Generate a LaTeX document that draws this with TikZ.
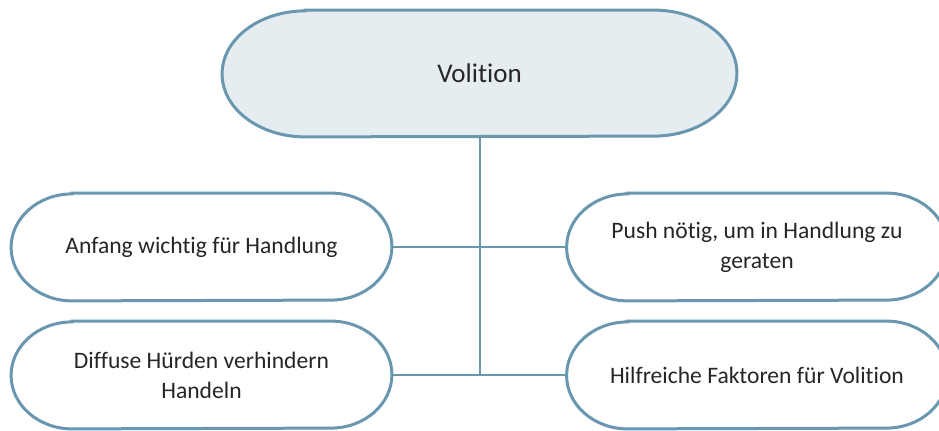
\documentclass[tikz,border=0pt]{standalone}
\usepackage{fontspec}
\setmainfont{Carlito}[Ligatures=NoCommon]
\usepackage{tikz}
\usetikzlibrary{positioning, calc, backgrounds}
\definecolor{edgeblue}{RGB}{106,151,176}
\definecolor{topfill}{RGB}{229,237,241}

\begin{document}
\begin{tikzpicture}[x=0.5pt, y=0.5pt,
    term/.style={rectangle, minimum width=190pt, minimum height=53.5pt, align=center,
        text=black!85, font=\fontsize{11.8}{15}\selectfont},
    outline/.style={draw=edgeblue, line width=1.5pt},
    link/.style={draw=edgeblue, line width=1pt}]
\useasboundingbox (0,0) rectangle (939,430);
\clip (0,0) rectangle (939,430);

% Main topic
\node[term, minimum width=257pt, minimum height=63pt,
      font=\fontsize{13.5}{15}\selectfont] (volition) at (479.5,356.5) {Volition};

% Sub topics
\node[term] (anfang) at (201.5,183) {Anfang wichtig für Handlung};
\node[term] (push) at (757,183) {Push nötig, um in Handlung zu\\geraten};
\node[term] (huerden) at (201.5,55) {Diffuse Hürden verhindern\\Handeln};
\node[term] (faktoren) at (757,55) {Hilfreiche Faktoren für Volition};

% Terminator outlines behind the texts
\begin{scope}[on background layer]
\clip (0,0) rectangle (939,430);
\foreach \n/\rx/\ry/\col in {volition/83/63/topfill, anfang/61/53.5/white,
    push/61/53.5/white, huerden/61/53.5/white, faktoren/61/53.5/white} {
    \draw[outline, fill=\col] ($(\n.north west)+(\rx,0)$) -- ($(\n.north east)+(-\rx,0)$)
        arc[start angle=90, end angle=-90, x radius=\rx, y radius=\ry]
        -- ($(\n.south west)+(\rx,0)$)
        arc[start angle=270, end angle=90, x radius=\rx, y radius=\ry] -- cycle;
}
\end{scope}

% Connectors
\coordinate (joint) at (volition.south |- huerden.east);
\draw[link] (volition.south) -- (joint);
\draw[link] (anfang.east) -- (push.west);
\draw[link] (huerden.east) -- (faktoren.west);
\end{tikzpicture}
\end{document}
